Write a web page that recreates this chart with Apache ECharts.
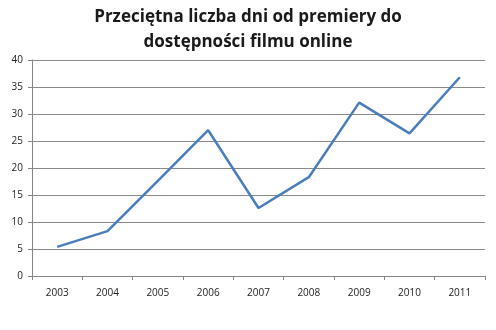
<!DOCTYPE html>
<html>
<head>
<meta charset="utf-8">
<script src="https://cdn.jsdelivr.net/npm/echarts@6/dist/echarts.min.js"></script>
<style>
  html, body { margin: 0; padding: 0; background: #fff; }
  #chart { width: 496px; height: 330px; }
</style>
</head>
<body>
<div id="chart"></div>
<script>
// Average number of days from premiere to online availability, per year
const years = ['2003', '2004', '2005', '2006', '2007', '2008', '2009', '2010', '2011'];
const avgDays = [5.4, 8.3, 17.6, 27.0, 12.6, 18.3, 32.1, 26.4, 36.8];
const yTicks = { min: 0, max: 40, interval: 5 };
const titleText = 'Przeciętna liczba dni od premiery do\ndostępności filmu online';

const chart = echarts.init(document.getElementById('chart'), null, { renderer: 'canvas' });
chart.setOption({
  animation: false,
  backgroundColor: '#ffffff',
  title: {
    text: titleText,
    left: 'center',
    top: 0,
    textStyle: {
      fontFamily: 'Open Sans',
      fontWeight: 'bold',
      fontSize: 17,
      lineHeight: 25,
      color: '#1a1a1a'
    }
  },
  grid: { left: 32, right: 11, top: 60, bottom: 54 },
  xAxis: {
    type: 'category',
    data: years,
    boundaryGap: true,
    axisLine: { show: true, lineStyle: { color: '#868686', width: 1 } },
    axisTick: { show: true, length: 4, lineStyle: { color: '#868686' } },
    axisLabel: { fontFamily: 'Open Sans', fontSize: 10, color: '#222', margin: 12 },
    splitLine: { show: false }
  },
  yAxis: {
    type: 'value',
    min: yTicks.min,
    max: yTicks.max,
    interval: yTicks.interval,
    axisLine: { show: true, lineStyle: { color: '#868686', width: 1 } },
    axisTick: { show: true, length: 4, lineStyle: { color: '#868686' } },
    axisLabel: { fontFamily: 'Open Sans', fontSize: 10, color: '#222', margin: 9 },
    splitLine: { show: true, lineStyle: { color: '#8a8a8a', width: 1 } }
  },
  series: [{
    type: 'line',
    data: avgDays,
    symbol: 'none',
    lineStyle: { color: '#4a7ebb', width: 2.5 },
    itemStyle: { color: '#4a7ebb' }
  }]
});
</script>
</body>
</html>
